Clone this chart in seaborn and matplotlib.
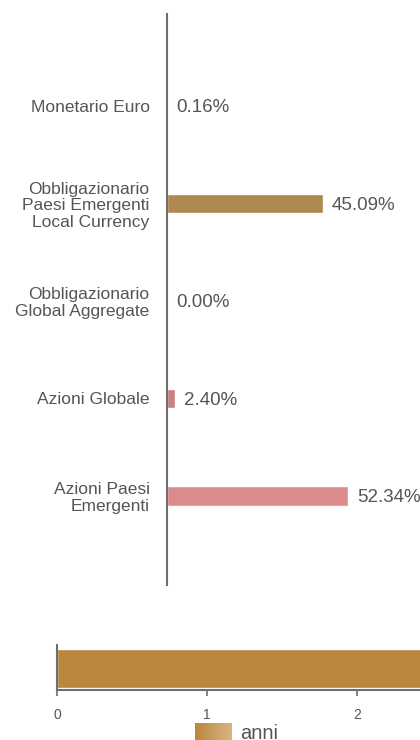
import numpy as np
import pandas as pd
import matplotlib
matplotlib.use("Agg")
import matplotlib.pyplot as plt
import seaborn as sns

# Allocation by asset class (percent)
categorie = [
    "Monetario Euro",
    "Obbligazionario\nPaesi Emergenti\nLocal Currency",
    "Obbligazionario\nGlobal Aggregate",
    "Azioni Globale",
    "Azioni Paesi\nEmergenti",
]
pesi = [0.16, 45.09, 0.00, 2.40, 52.34]
colori = ["#9C8A6A", "#AE8850", "#B59A70", "#C88080", "#DB8B8B"]

# Duration bar
durata_label = "anni"
durata = [3.0]
durata_ticks = [0, 1, 2]

sns.set_style("white")
plt.rcParams["font.family"] = ["Liberation Sans", "DejaVu Sans"]

TXT = "#555555"
SPINE = "#6E6E6E"
W, H = 420, 740


def rect(x0, y0, x1, y1):
    return [x0 / W, 1 - y1 / H, (x1 - x0) / W, (y1 - y0) / H]


fig = plt.figure(figsize=(W / 100, H / 100), dpi=100)

# --- allocation chart ---
ax = fig.add_axes(rect(167, 14, 420, 585))
df = pd.DataFrame({"categoria": categorie, "peso": pesi})
sns.barplot(data=df, y="categoria", x="peso", hue="categoria",
            palette=colori, width=0.2, legend=False, orient="h",
            saturation=1, ax=ax)
ax.set_xlim(0, 253 / 3.46)
ax.set_ylim(4.913, -0.943)
ax.set_xlabel("")
ax.set_ylabel("")
ax.set_xticks([])
for s in ["top", "right", "bottom"]:
    ax.spines[s].set_visible(False)
ax.spines["left"].set_color(SPINE)
ax.spines["left"].set_linewidth(1.5)
ax.tick_params(axis="y", length=0, pad=12.5, labelsize=12.5, labelcolor=TXT)
for lab in ax.get_yticklabels():
    lab.set_linespacing(1.12)
for cont in ax.containers:
    labs = ax.bar_label(cont, fmt="%.2f%%", padding=6.5, fontsize=13.5,
                        color=TXT)
    for t in labs:
        t.set_va("center_baseline")

# --- duration chart ---
ax2 = fig.add_axes(rect(57, 645, 420, 690))
df2 = pd.DataFrame({"serie": [durata_label], "valore": durata})
sns.barplot(data=df2, y="serie", x="valore", color="#B9873D", width=0.8,
            orient="h", saturation=1, ax=ax2)
ax2.set_xlim(0, (420 - 57) / 150)
ax2.set_ylim(0.441, -0.482)
ax2.set_xlabel("")
ax2.set_ylabel("")
ax2.set_yticks([])
ax2.set_xticks(durata_ticks)
ax2.set_xticklabels([str(t) for t in durata_ticks])
for s in ["top", "right"]:
    ax2.spines[s].set_visible(False)
for s in ["left", "bottom"]:
    ax2.spines[s].set_color(SPINE)
    ax2.spines[s].set_linewidth(1.5)
ax2.tick_params(axis="x", length=4, width=1.2, color=SPINE, pad=9,
                labelsize=10, labelcolor=TXT, bottom=True)

# --- legend with gradient swatch ---
lax = fig.add_axes(rect(195, 723, 231, 750))
grad = np.linspace(0, 1, 64).reshape(1, -1)
cmap = matplotlib.colors.LinearSegmentedColormap.from_list(
    "oro", ["#B9873D", "#D9B483"])
lax.imshow(grad, aspect="auto", cmap=cmap, extent=[0, 1, 0, 1])
lax.set_axis_off()
fig.text(240 / W, 1 - 739 / H, durata_label, va="baseline", ha="left",
         fontsize=14.5, color=TXT)

fig.savefig("out.png", dpi=100)
